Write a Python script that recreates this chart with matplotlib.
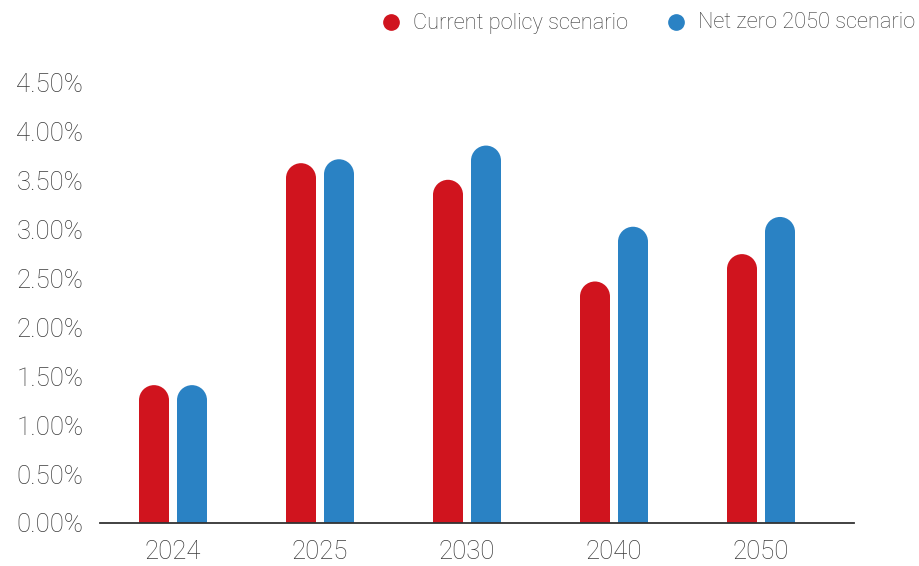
import matplotlib
matplotlib.use("Agg")
import matplotlib.pyplot as plt
from matplotlib.patches import Ellipse
from matplotlib.lines import Line2D
import numpy as np

years = ["2024", "2025", "2030", "2040", "2050"]
current_policy = [1.41, 3.68, 3.51, 2.47, 2.75]
net_zero_2050 = [1.41, 3.72, 3.86, 3.03, 3.13]
series_names = ["Current policy scenario", "Net zero 2050 scenario"]
y_ticks = [0.0, 0.5, 1.0, 1.5, 2.0, 2.5, 3.0, 3.5, 4.0, 4.5]

RED = "#D0141E"
BLUE = "#2A82C4"
TEXT = "#3a3a3a"

W, H, DPI = 919, 566, 100
fig = plt.figure(figsize=(W / DPI, H / DPI), dpi=DPI)

# axes box in pixels: x 100..854, y 83..523 (from top)
ax_left, ax_right, ax_top, ax_bottom = 100, 854, 83, 523
ax = fig.add_axes([ax_left / W, (H - ax_bottom) / H,
                   (ax_right - ax_left) / W, (ax_bottom - ax_top) / H])

px_per_x = 147.0
x0 = -73.0 / px_per_x
x1 = x0 + (ax_right - ax_left) / px_per_x
ymax = 4.5
px_per_y = (ax_bottom - ax_top) / ymax
ax.set_xlim(x0, x1)
ax.set_ylim(0, ymax)

bar_w = 30 / px_per_x
offset = 19 / px_per_x
r_y = 15 / px_per_y

x = np.arange(len(years))


def rounded_bars(xs, vals, color):
    body = [v - r_y for v in vals]
    ax.bar(xs, body, width=bar_w, color=color, linewidth=0, zorder=2)
    for xi, b in zip(xs, body):
        ax.add_patch(Ellipse((xi, b), bar_w, 2 * r_y, facecolor=color,
                             linewidth=0, zorder=2))


rounded_bars(x - offset, current_policy, RED)
rounded_bars(x + offset, net_zero_2050, BLUE)

font = dict(family="Roboto", weight="light")
ax.set_yticks(y_ticks)
ax.set_yticklabels([f"{v:.2f}%" for v in y_ticks], fontsize=18.5,
                   color=TEXT, **font)
ax.set_xticks(x)
ax.set_xticklabels(years, fontsize=18.5, color=TEXT, **font)
ax.tick_params(axis="y", length=0, pad=12)
ax.tick_params(axis="x", length=0, pad=12.5)

for s in ["top", "right", "left"]:
    ax.spines[s].set_visible(False)
ax.spines["bottom"].set_color("#333333")
ax.spines["bottom"].set_linewidth(1.3)
ax.spines["bottom"].set_zorder(3)

# legend row across the top
legend_items = [(series_names[0], RED, 391), (series_names[1], BLUE, 676)]
for label, color, px in legend_items:
    fig.add_artist(Line2D([px / W], [1 - 22 / H], marker="o", markersize=11,
                          color=color, linestyle="none",
                          transform=fig.transFigure))
    fig.text((px + 22) / W, 1 - 23 / H, label, fontsize=15.7, color=TEXT,
             va="center", ha="left", **font)

fig.savefig("out.png", dpi=DPI)
